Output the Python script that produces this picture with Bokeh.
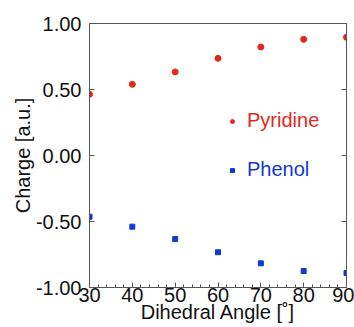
from bokeh.plotting import figure
from bokeh.models import (LinearAxis, FixedTicker, Legend, LegendItem,
                          ColumnDataSource, CustomJSTickFormatter)
from bokeh.embed import file_html
from bokeh.resources import INLINE

# ---- data ----
angles = [30, 40, 50, 60, 70, 80, 90]
pyridine = [0.464, 0.539, 0.633, 0.736, 0.822, 0.880, 0.895]
phenol = [-0.464, -0.539, -0.633, -0.733, -0.817, -0.875, -0.890]
x_ticks = [30, 40, 50, 60, 70, 80, 90]
y_ticks = [1.0, 0.5, 0.0, -0.5, -1.0]
y_tick_labels = ["1.00", "0.50", "0.00", "-0.50", "-1.00"]
x_title = "Dihedral Angle [˚]"
y_title = "Charge [a.u.]"

RED = "#e1281c"
BLUE = "#1238d2"
FONT = "Liberation Sans"
AX = "#555555"
TXT = "#111111"

p = figure(width=354, height=327, x_range=(30, 90), y_range=(-1, 1),
           output_backend="svg", toolbar_location=None,
           min_border_left=89, min_border_right=8, min_border_top=23,
           min_border_bottom=40)
p.xgrid.visible = False
p.ygrid.visible = False
p.outline_line_color = AX
p.outline_line_width = 1
p.background_fill_color = "white"
p.border_fill_color = "white"

src = ColumnDataSource(dict(x=angles, pyr=pyridine, phe=phenol))
r1 = p.scatter("x", "pyr", source=src, marker="circle", size=6,
               fill_color=RED, line_color=RED)
r2 = p.scatter("x", "phe", source=src, marker="square", size=5,
               fill_color=BLUE, line_color=BLUE)

# x axis
xa = p.xaxis[0]
xa.ticker = FixedTicker(ticks=x_ticks,
                        minor_ticks=[v for v in range(30, 91, 2)])
xa.major_tick_in = 5
xa.major_tick_out = 0
xa.minor_tick_in = 3
xa.minor_tick_out = 0
xa.axis_line_color = AX
xa.major_tick_line_color = AX
xa.minor_tick_line_color = AX
xa.major_label_text_font = FONT
xa.major_label_text_font_size = "20px"
xa.major_label_text_color = TXT
xa.major_label_standoff = 0
xa.axis_label = x_title
xa.axis_label_text_font = FONT
xa.axis_label_text_font_size = "20px"
xa.axis_label_text_font_style = "normal"
xa.axis_label_text_color = TXT
xa.axis_label_standoff = -4

# y axis
ya = p.yaxis[0]
ya.ticker = FixedTicker(ticks=y_ticks, minor_ticks=[])
ya.major_label_overrides = {t: l for t, l in zip(y_ticks, y_tick_labels)}
ya.major_tick_in = 5
ya.major_tick_out = 0
ya.minor_tick_line_color = None
ya.axis_line_color = AX
ya.major_tick_line_color = AX
ya.major_label_text_font = FONT
ya.major_label_text_font_size = "20px"
ya.major_label_text_color = TXT
ya.major_label_standoff = 8
ya.axis_label = y_title
ya.axis_label_text_font = FONT
ya.axis_label_text_font_size = "20px"
ya.axis_label_text_font_style = "normal"
ya.axis_label_text_color = TXT
ya.axis_label_standoff = -1

# right axis: inward ticks only, no labels
ra = LinearAxis(ticker=FixedTicker(ticks=y_ticks, minor_ticks=[]),
                formatter=CustomJSTickFormatter(code="return ''"))
ra.major_tick_in = 5
ra.major_tick_out = 0
ra.minor_tick_line_color = None
ra.axis_line_color = AX
ra.major_tick_line_color = AX
ra.major_label_standoff = 0
p.add_layout(ra, "right")

# legends (separate so each label has its own colour)
for r, name, col, ypos in [(r1, "Pyridine", RED, 155), (r2, "Phenol", BLUE, 106)]:
    lg = Legend(items=[LegendItem(label=name, renderers=[r])],
                location=(138, ypos), padding=0, margin=0, spacing=0,
                glyph_width=10, glyph_height=20, label_height=20,
                label_standoff=10, label_text_font=FONT,
                label_text_font_size="20px", label_text_color=col,
                border_line_color=None, background_fill_alpha=0)
    p.add_layout(lg, "center")

open("out.html", "w").write(file_html(p, INLINE))
